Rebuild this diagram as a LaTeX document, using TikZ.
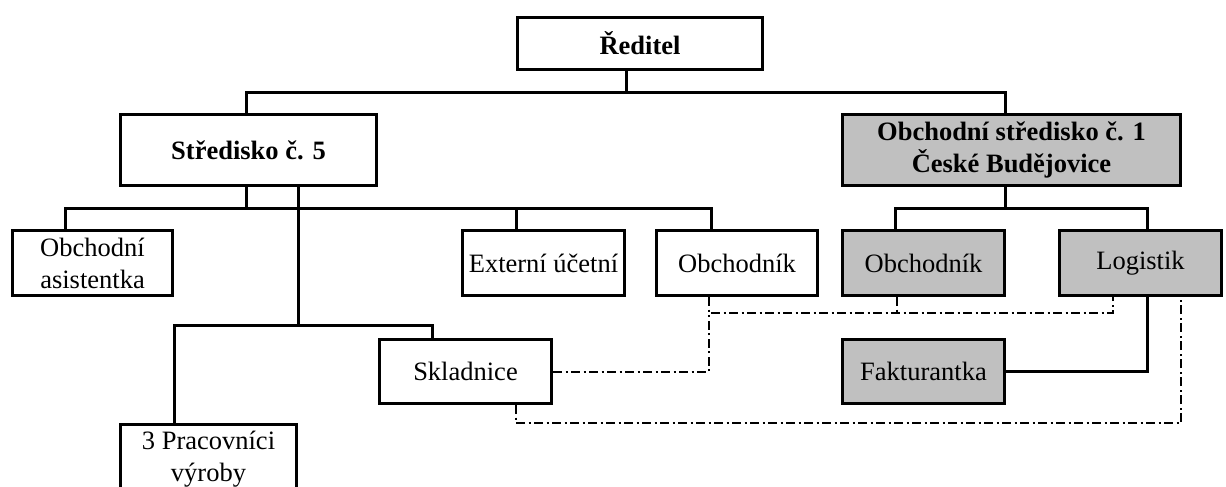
\documentclass[tikz,border=0pt]{standalone}
\usepackage{fontspec}
\setmainfont{Liberation Serif}
\usepackage{tikz}
\usetikzlibrary{positioning}
\definecolor{boxgray}{RGB}{192,192,192}

\begin{document}
\begin{tikzpicture}[x=1pt,y=-1pt,
		post/.style={rectangle,draw=black,line width=3pt,inner sep=0pt,align=center,
			font=\fontsize{26.5}{32}\selectfont},
		head/.style={post,font=\fontsize{26.5}{32}\selectfont\bfseries},
		shaded/.style={fill=boxgray},
		conn/.style={line width=3pt},
		dline/.style={line width=2pt,dash pattern=on 9pt off 3.5pt on 2pt off 3.5pt}]
		\useasboundingbox (0,0) rectangle (1226,487);
		\clip (0,0) rectangle (1226,487);

		\node[head]         (reditel) [minimum width=245,minimum height=52] at (640,43.5)   {Ředitel};
		\node[head]         (stred5)  [minimum width=256,minimum height=71] at (248.5,150)  {Středisko č. 5};
		\node[head,shaded]  (stred1)  [minimum width=338,minimum height=71] at (1011.5,150) {Obchodní středisko č. 1\\České Budějovice};

		\node[post]         (asist)   [minimum width=160,minimum height=65] at (92.5,263)   {Obchodní\\asistentka};
		\node[post]         (extern)  [minimum width=162,minimum height=65] at (543.5,263)  {Externí účetní};
		\node[post]         (obch)    [minimum width=161,minimum height=65] at (737,263)    {Obchodník};
		\node[post,shaded]  (obch2)   [minimum width=162,minimum height=65] at (923.5,263)  {Obchodník};
		\node[post,shaded]  (logist)  [minimum width=162,minimum height=65] at (1140.5,263) {Logistik};

		\node[post]         (sklad)   [minimum width=172,minimum height=64] at (465.5,371.5) {Skladnice};
		\node[post,shaded]  (faktur)  [minimum width=162,minimum height=64] at (923.5,371)   {Fakturantka};
		\node[post]         (prac)    [minimum width=176,minimum height=70] at (208.5,459)   {3 Pracovníci\\výroby};

		\draw[conn] ([xshift=-14pt]reditel.south) -- ++(0,21) coordinate (j0);
		\draw[conn] ([xshift=-2.5pt]stred5.north) |- (j0) -| ([xshift=-6.5pt]stred1.north);

		\draw[conn] ([xshift=-2.5pt]stred5.south) -- ++(0,21) coordinate (j1);
		\draw[conn] ([xshift=-27.5pt]asist.north) |- (j1) -| ([xshift=-26pt]obch.north);
		\draw[conn] ([xshift=-27.5pt]extern.north) -- ++(0,-21);

		\draw[conn] ([xshift=49.5pt]stred5.south) -- ++(0,138) coordinate (j2);
		\draw[conn] ([xshift=-34.5pt]prac.north) |- (j2) -| ([xshift=-33.5pt]sklad.north);

		\draw[conn] ([xshift=-6.5pt]stred1.south) -- ++(0,21) coordinate (j3);
		\draw[conn] ([xshift=-28.5pt]obch2.north) |- (j3) -| ([xshift=6.5pt]logist.north);
		\draw[conn] ([xshift=6.5pt]logist.south) |- (faktur.east);

		\draw[dline] ([xshift=-28pt]obch.south) -- ++(0,16) coordinate (d1) -| ([xshift=-27.5pt]logist.south);
		\draw[dline] ([xshift=-26.5pt]obch2.south) -- ++(0,16);
		\draw[dline] (sklad.east) -| (d1);
		\draw[dline] ([xshift=50.5pt]sklad.south) -- ++(0,18) -| ([xshift=40.5pt]logist.south);
\end{tikzpicture}
\end{document}
